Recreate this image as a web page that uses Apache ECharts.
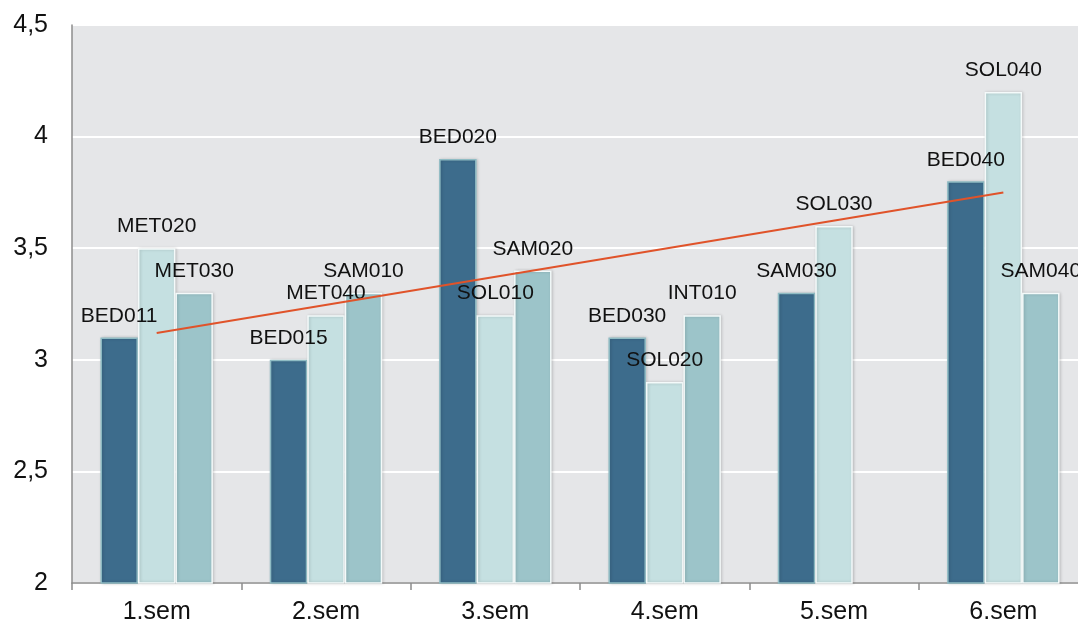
<!DOCTYPE html>
<html>
<head>
<meta charset="utf-8">
<script src="https://cdn.jsdelivr.net/npm/echarts@6/dist/echarts.min.js"></script>
<style>
  html, body { margin: 0; padding: 0; background: #fff; }
  #chart { width: 1078px; height: 626px; }
</style>
</head>
<body>
<div id="chart"></div>
<script>
const semesters = ['1.sem', '2.sem', '3.sem', '4.sem', '5.sem', '6.sem'];

// three courses per semester, value + course code
const firstValues = [3.1, 3.0, 3.9, 3.1, 3.3, 3.8];
const firstCodes = ['BED011', 'BED015', 'BED020', 'BED030', 'SAM030', 'BED040'];
const secondValues = [3.5, 3.2, 3.2, 2.9, 3.6, 4.2];
const secondCodes = ['MET020', 'MET040', 'SOL010', 'SOL020', 'SOL030', 'SOL040'];
const thirdValues = [3.3, 3.3, 3.4, 3.2, null, 3.3];
const thirdCodes = ['MET030', 'SAM010', 'SAM020', 'INT010', '', 'SAM040'];

// linear trend line, only end points
const trendValues = [3.12, null, null, null, null, 3.75];

const chart = echarts.init(document.getElementById('chart'));

const font = 'Liberation Sans, Arial, sans-serif';

function barSeries(values, codes, color, border) {
	return {
		type: 'bar',
		data: values.map((v, i) => ({ value: v, code: codes[i] })),
		barGap: '0%',
		barCategoryGap: '33.6%',
		itemStyle: {
			color: color,
			borderColor: border,
			borderWidth: 1.5,
			shadowColor: 'rgba(0,0,0,0.18)',
			shadowBlur: 3,
			shadowOffsetX: 1
		},
		label: {
			show: true,
			position: 'top',
			distance: 11,
			color: '#111',
			fontFamily: font,
			fontSize: 21,
			formatter: (p) => p.data.code
		}
	};
}

const option = {
	animation: false,
	backgroundColor: '#fff',
	grid: {
		left: 72,
		right: -10,
		top: 25,
		bottom: 43,
		outerBoundsMode: 'none',
		show: true,
		backgroundColor: '#e5e6e8',
		borderWidth: 0
	},
	xAxis: {
		type: 'category',
		data: semesters,
		axisLine: { lineStyle: { color: '#8c8c8c', width: 1.5 } },
		axisTick: { show: true, length: 7, lineStyle: { color: '#8c8c8c', width: 1.5 } },
		axisLabel: { color: '#111', fontFamily: font, fontSize: 25, margin: 17 }
	},
	yAxis: {
		type: 'value',
		min: 2,
		max: 4.5,
		interval: 0.5,
		axisLine: { show: true, lineStyle: { color: '#8c8c8c', width: 1.5 } },
		axisTick: { show: false },
		splitLine: { lineStyle: { color: '#ffffff', width: 2 } },
		axisLabel: {
			color: '#111',
			fontFamily: font,
			fontSize: 25,
			margin: 24,
			formatter: (v) => String(v).replace('.', ',')
		}
	},
	series: [
		barSeries(firstValues, firstCodes, '#3d6c8c', '#8fbcc4'),
		barSeries(secondValues, secondCodes, '#c5e0e1', '#f4fafa'),
		barSeries(thirdValues, thirdCodes, '#9cc4c9', '#f4fafa'),
		{
			type: 'line',
			data: trendValues,
			connectNulls: true,
			showSymbol: false,
			symbol: 'none',
			z: 5,
			lineStyle: { color: '#e0532a', width: 2 }
		}
	]
};

chart.setOption(option);
</script>
</body>
</html>
